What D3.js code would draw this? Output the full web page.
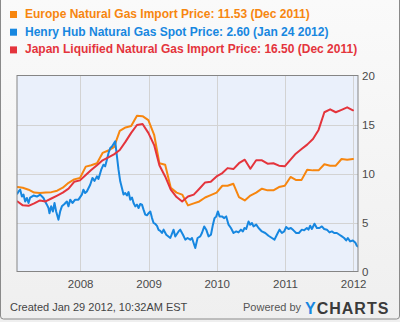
<!DOCTYPE html>
<html><head><meta charset="utf-8">
<script src="https://cdn.jsdelivr.net/npm/d3@7"></script>
<style>html,body{margin:0;padding:0;background:#fff}svg{display:block}</style>
</head><body>
<script>
// ---- Data ----
const legendLabels = [
  "Europe Natural Gas Import Price: 11.53 (Dec 2011)",
  "Henry Hub Natural Gas Spot Price: 2.60 (Jan 24 2012)",
  "Japan Liquified Natural Gas Import Price: 16.50 (Dec 2011)"
];
const seriesColors = ["#f7860f", "#1787e0", "#e4343c"];
// monthly series Jan 2007 .. Dec 2011 (plotted at month end)
const months = d3.timeMonth.range(new Date(2007,0,1), new Date(2012,0,1));
const europe = [8.67,8.6,8.4,8.1,8.06,8.1,8.15,8.3,8.6,9.1,9.45,9.6,
  10.75,10.9,11.1,12.15,12.4,12.75,14.4,14.75,14.9,15.95,15.9,15.5,
  14.0,11.1,10.95,8.6,8.1,7.9,6.8,7.0,7.2,7.6,7.85,8.1,
  8.8,8.8,9.0,7.65,7.3,7.8,8.1,8.5,8.33,8.33,8.67,8.8,
  9.7,9.4,9.4,10.44,10.37,10.37,11.0,10.85,10.85,11.53,11.46,11.53];
const japan = [7.2,6.8,6.75,7.0,7.3,7.2,7.5,7.8,8.1,8.5,9.2,9.35,
  9.9,10.4,10.9,11.4,11.7,12.0,12.45,13.3,14.2,15.0,15.1,14.2,
  12.95,10.9,9.75,8.4,7.65,7.2,7.7,7.9,8.5,9.14,9.2,9.75,
  10.1,10.6,10.5,11.1,11.46,10.54,11.4,11.4,11.05,11.1,10.85,10.78,
  11.46,12.07,12.55,13.0,13.57,14.5,16.3,16.6,16.3,16.55,16.8,16.5];
// Henry Hub spot: [decimal year, price]
const henryHub = [[2007.08,8.0],[2007.096,8.22],[2007.121,8.4],[2007.146,7.7],[2007.169,7.9],[2007.194,7.2],
[2007.219,7.55],[2007.243,7.04],[2007.267,7.6],[2007.316,7.8],[2007.366,7.7],[2007.414,7.9],[2007.462,7.55],
[2007.487,7.2],[2007.512,6.87],[2007.536,6.53],[2007.550,6.0],[2007.575,6.7],[2007.600,6.18],[2007.624,7.04],
[2007.648,6.18],[2007.682,5.34],[2007.707,6.18],[2007.732,6.7],[2007.770,6.94],[2007.805,7.2],[2007.829,6.7],
[2007.854,7.38],[2007.887,7.04],[2007.927,7.38],[2007.975,7.38],[2008.025,7.9],[2008.048,8.4],[2008.073,8.06],
[2008.098,8.22],[2008.147,8.9],[2008.180,9.6],[2008.210,9.3],[2008.245,9.76],[2008.268,9.5],[2008.308,10.44],
[2008.341,10.95],[2008.366,10.78],[2008.391,11.46],[2008.415,12.14],[2008.440,12.65],[2008.465,12.8],
[2008.488,13.06],[2008.513,13.33],[2008.523,12.7],[2008.538,11.8],[2008.561,10.44],[2008.586,9.25],
[2008.611,8.57],[2008.634,7.9],[2008.659,8.06],[2008.684,7.8],[2008.708,8.16],[2008.733,7.38],[2008.758,7.6],
[2008.781,7.04],[2008.806,6.7],[2008.831,6.87],[2008.854,6.53],[2008.879,6.94],[2008.904,6.87],[2008.927,6.36],
[2008.952,5.85],[2008.977,5.78],[2009.001,6.0],[2009.026,6.18],[2009.051,5.5],[2009.074,5.0],[2009.099,4.9],
[2009.124,4.7],[2009.147,4.3],[2009.172,4.2],[2009.197,3.98],[2009.221,4.32],[2009.260,3.8],[2009.319,3.47],
[2009.367,4.32],[2009.392,3.63],[2009.440,4.14],[2009.465,4.32],[2009.505,3.8],[2009.539,3.3],[2009.572,3.47],
[2009.612,3.3],[2009.637,3.47],[2009.685,2.45],[2009.719,3.47],[2009.758,3.63],[2009.783,3.98],[2009.817,4.65],
[2009.846,4.32],[2009.880,3.63],[2009.915,3.8],[2009.944,4.83],[2009.968,5.5],[2009.993,5.67],[2010.017,6.18],
[2010.041,5.67],[2010.076,5.67],[2010.110,5.5],[2010.139,5.67],[2010.173,4.83],[2010.208,4.49],[2010.246,3.98],
[2010.286,4.14],[2010.319,4.04],[2010.355,4.32],[2010.384,4.14],[2010.407,4.49],[2010.432,4.39],[2010.466,5.16],
[2010.491,4.83],[2010.516,5.0],[2010.539,4.65],[2010.579,4.83],[2010.613,4.49],[2010.662,4.14],[2010.711,3.98],
[2010.759,3.7],[2010.809,3.47],[2010.847,3.3],[2010.882,3.8],[2010.920,4.32],[2010.955,3.98],[2010.989,4.14],
[2011.018,4.59],[2011.052,4.39],[2011.087,4.49],[2011.125,4.25],[2011.165,3.98],[2011.204,3.98],[2011.248,4.32],
[2011.282,4.25],[2011.321,4.49],[2011.345,4.32],[2011.370,4.72],[2011.395,4.39],[2011.433,4.93],[2011.468,4.49],
[2011.506,4.49],[2011.541,4.65],[2011.575,4.39],[2011.615,4.32],[2011.653,4.04],[2011.688,4.14],[2011.722,3.98],
[2011.761,3.98],[2011.799,3.8],[2011.835,3.63],[2011.868,3.47],[2011.898,3.22],[2011.922,3.47],[2011.956,3.12],
[2011.996,3.22],[2012.030,3.02],[2012.054,2.68],[2012.069,2.6]];
const yTicks = [0,5,10,15,20];
const xTickYears = [2008,2009,2010,2011,2012];
const createdText = "Created Jan 29 2012, 10:32AM EST";

// ---- Helpers ----
const decToDate = v => { const yr = Math.floor(v); const s = new Date(yr,0,1), e = new Date(yr+1,0,1); return new Date(+s + (v-yr)*(e-s)); };
const monthEnd = m => d3.timeDay.offset(d3.timeMonth.offset(m,1), -1);

const W = 400, H = 322;
const plot = {x0:17, x1:358, y0:75.5, y1:271.5};
const svg = d3.select("body").append("svg").attr("width",W).attr("height",H);
const defs = svg.append("defs");
const g1 = defs.append("linearGradient").attr("id","bg").attr("x1",0).attr("y1",0).attr("x2",0).attr("y2",1);
g1.append("stop").attr("offset","0%").attr("stop-color","#fafafa");
g1.append("stop").attr("offset","100%").attr("stop-color","#efefef");
svg.append("rect").attr("x",0).attr("y",0).attr("width",W).attr("height",H).attr("fill","url(#bg)");
svg.append("rect").attr("x",0.5).attr("y",-5).attr("width",W-1).attr("height",H-2.5+5-0.5)
  .attr("fill","none").attr("stroke","#8a8a8a").attr("rx",3);

const x = d3.scaleTime().domain([new Date(2007,0,28), new Date(2012,0,27)]).range([plot.x0, plot.x1]);
const y = d3.scaleLinear().domain([0,20]).range([272, 76]);

svg.append("rect").attr("x",plot.x0).attr("y",plot.y0).attr("width",plot.x1-plot.x0).attr("height",plot.y1-plot.y0)
  .attr("fill","#eaf0fb");
// grid
const grid = svg.append("g").attr("stroke","#d3d3d3").attr("stroke-width",1);
yTicks.filter(v=>v>0&&v<20).forEach(v=>{
  const yy = Math.round(y(v))+0.5;
  grid.append("line").attr("x1",plot.x0).attr("x2",plot.x1).attr("y1",yy).attr("y2",yy);
});
xTickYears.forEach(yr=>{
  const xx = Math.round(x(new Date(yr,0,1)))+0.5;
  grid.append("line").attr("x1",xx).attr("x2",xx).attr("y1",plot.y0).attr("y2",plot.y1);
});

// lines
const clip = defs.append("clipPath").attr("id","clip");
clip.append("rect").attr("x",plot.x0).attr("y",plot.y0).attr("width",plot.x1-plot.x0).attr("height",plot.y1-plot.y0);
const lineGen = d3.line().x(d=>x(d[0])).y(d=>y(d[1])).curve(d3.curveLinear);
const series = [
  months.map((m,i)=>[monthEnd(m), europe[i]]),
  henryHub.map(d=>[decToDate(d[0]), d[1]]),
  months.map((m,i)=>[monthEnd(m), japan[i]])
];
const lg = svg.append("g").attr("clip-path","url(#clip)");
series.forEach((s,i)=>{
  lg.append("path").attr("d",lineGen(s)).attr("fill","none").attr("stroke",seriesColors[i])
    .attr("stroke-width",2).attr("stroke-linejoin","round").attr("stroke-linecap","round");
});

// border
svg.append("rect").attr("x",plot.x0).attr("y",plot.y0).attr("width",plot.x1-plot.x0).attr("height",plot.y1-plot.y0)
  .attr("fill","none").attr("stroke","#858585").attr("stroke-width",1);

const font = "'Liberation Sans', Arial, sans-serif";
// y tick labels on right
svg.append("g").selectAll("text").data(yTicks).join("text")
  .attr("x",362).attr("y",d=>y(d)+4).attr("font-family",font).attr("font-size",11.5).attr("fill","#4a4a4a")
  .text(d=>d);
// x tick labels
svg.append("g").selectAll("text").data(xTickYears).join("text")
  .attr("x",d=>x(new Date(d,0,1))+0.5).attr("y",288).attr("text-anchor","middle")
  .attr("font-family",font).attr("font-size",11.5).attr("fill","#4a4a4a").text(d=>d);

// legend
const leg = svg.append("g");
legendLabels.forEach((t,i)=>{
  const by = 18 + i*17.7;
  leg.append("rect").attr("x",10).attr("y",by-7).attr("width",7).attr("height",7).attr("fill",seriesColors[i]);
  leg.append("text").attr("x",25).attr("y",by).attr("font-family",font).attr("font-weight","bold")
    .attr("font-size",12).attr("fill",seriesColors[i]).text(t);
});

// footer
svg.append("text").attr("x",10).attr("y",311).attr("font-family",font).attr("font-size",11)
  .attr("fill","#444").text(createdText);
svg.append("text").attr("x",243).attr("y",311).attr("font-family",font).attr("font-size",11)
  .attr("fill","#555").text("Powered by");
const yc = svg.append("text").attr("x",305).attr("y",313.5).attr("font-family",font).attr("font-size",16)
  .attr("font-weight","bold").attr("letter-spacing",1);
yc.append("tspan").attr("fill","#1787e0").text("Y");
yc.append("tspan").attr("fill","#3a3a3a").text("CHARTS");
</script>
</body></html>
